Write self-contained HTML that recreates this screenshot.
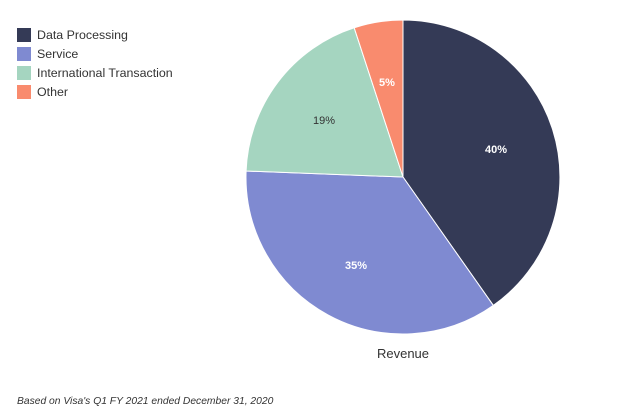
<!DOCTYPE html>
<html><head><style>
body{margin:0;background:#fff;width:632px;height:412px;overflow:hidden;font-family:"Liberation Sans",sans-serif}
</style></head><body>
<svg width="632" height="412" xmlns="http://www.w3.org/2000/svg" font-family="Liberation Sans, sans-serif">
<rect x="17" y="28" width="14" height="14" fill="#343a56"/>
<rect x="17" y="47" width="14" height="14" fill="#7f8ad1"/>
<rect x="17" y="66" width="14" height="14" fill="#a5d5c0"/>
<rect x="17" y="85" width="14" height="14" fill="#f98b6e"/>
<g font-size="12.4" fill="#333">
<text x="37" y="39">Data Processing</text>
<text x="37" y="58">Service</text>
<text x="37" y="77">International Transaction</text>
<text x="37" y="96">Other</text>
</g>
<g stroke="#fff" stroke-width="1">
<path d="M403,177 L403,20 A157,157 0 0 1 493.3,305.4 Z" fill="#343a56"/>
<path d="M403,177 L493.3,305.4 A157,157 0 0 1 246.1,171 Z" fill="#7f8ad1"/>
<path d="M403,177 L246.1,171 A157,157 0 0 1 354.2,27.8 Z" fill="#a5d5c0"/>
<path d="M403,177 L354.2,27.8 A157,157 0 0 1 403,20 Z" fill="#f98b6e"/>
</g>
<g font-size="11" font-weight="bold" text-anchor="middle">
<text x="496" y="153" fill="#fff">40%</text>
<text x="356" y="269" fill="#fff">35%</text>
<text x="324" y="124" fill="#333" font-weight="normal">19%</text>
<text x="387" y="86" fill="#fff">5%</text>
</g>
<text x="403" y="358" font-size="13" fill="#333" text-anchor="middle">Revenue</text>
<text x="17" y="404" font-size="10.3" font-style="italic" fill="#333">Based on Visa's Q1 FY 2021 ended December 31, 2020</text>
</svg>
</body></html>
